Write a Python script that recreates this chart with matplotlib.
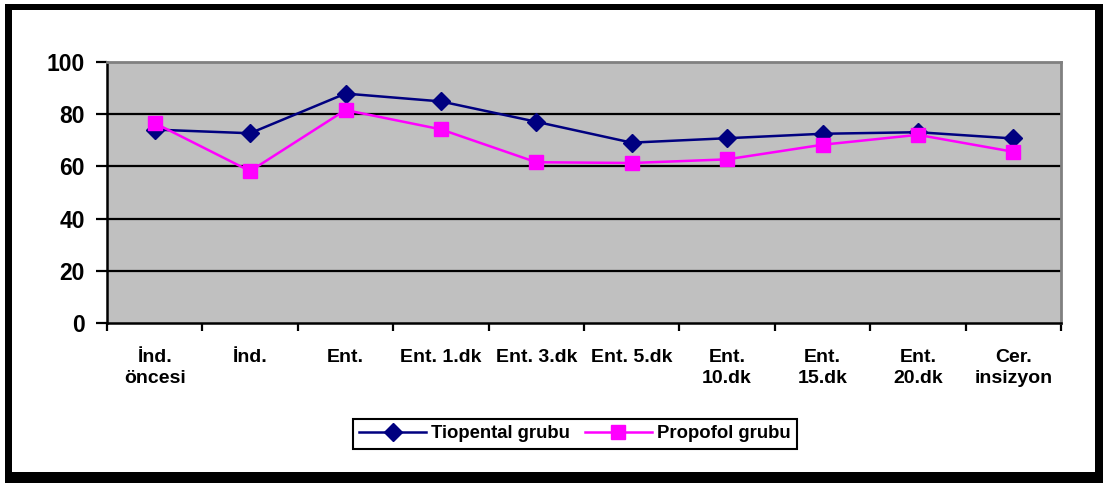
import matplotlib
matplotlib.use("Agg")
import matplotlib.pyplot as plt
from matplotlib.patches import Rectangle

plt.rcParams["font.family"] = ["Liberation Sans", "DejaVu Sans"]
plt.rcParams["font.weight"] = "bold"

categories = ["İnd.\nöncesi", "İnd.", "Ent.", "Ent. 1.dk", "Ent. 3.dk",
              "Ent. 5.dk", "Ent.\n10.dk", "Ent.\n15.dk", "Ent.\n20.dk", "Cer.\ninsizyon"]
tiopental = [74.1, 72.7, 87.9, 84.9, 77.1, 69.1, 70.8, 72.5, 73.1, 70.7]
propofol = [76.6, 58.2, 81.6, 74.2, 61.6, 61.3, 62.7, 68.3, 72.1, 65.6]
y_ticks = [0, 20, 40, 60, 80, 100]

W, H = 1103, 483
fig = plt.figure(figsize=(W / 100, H / 100), dpi=100)

# outer frame with shadow on right/bottom, kept behind the axes
fig.patches.append(Rectangle((5 / W, 0), 1 - 5 / W, 1 - 4 / H, transform=fig.transFigure,
                             facecolor="black", edgecolor="none", zorder=-2))
fig.patches.append(Rectangle((12 / W, 11 / H), (1095 - 12) / W, (472 - 10) / H,
                             transform=fig.transFigure, facecolor="white",
                             edgecolor="none", zorder=-1))

ax = fig.add_axes([107 / W, 1 - 323 / H, (1061 - 107) / W, (323 - 62) / H])
ax.set_facecolor("#C0C0C0")
x = list(range(1, len(categories) + 1))

ax.plot(x, tiopental, color="#000080", lw=1.8, marker="D", ms=9,
        label="Tiopental grubu", zorder=3)
ax.plot(x, propofol, color="#FF00FF", lw=1.8, marker="s", ms=10,
        label="Propofol grubu", zorder=4)

ax.set_xlim(0.5, len(categories) + 0.5)
ax.set_ylim(0, 100)
ax.set_yticks(y_ticks)
for v in y_ticks[1:-1]:
    ax.axhline(v, color="black", lw=1.6, zorder=1)

ax.set_xticks(x)
ax.set_xticklabels(categories, fontsize=14, fontweight="bold", linespacing=1.3)
ax.set_xticks([i + 0.5 for i in range(len(categories) + 1)], minor=True)
ax.tick_params(axis="x", which="major", length=0, pad=19)
ax.tick_params(axis="x", which="minor", length=6, width=1.6, direction="out")
ax.tick_params(axis="y", length=8, width=1.6, pad=8, labelsize=16.5)
for lab in ax.get_yticklabels():
    lab.set_fontweight("bold")

for side in ("left", "bottom"):
    ax.spines[side].set_color("black")
    ax.spines[side].set_linewidth(1.8)
for side in ("top", "right"):
    ax.spines[side].set_color("#808080")
    ax.spines[side].set_linewidth(2)

leg = fig.legend(loc="center", bbox_to_anchor=(575 / W, 1 - 434 / H), ncol=2,
                 prop={"weight": "bold", "size": 13.3}, fancybox=False,
                 edgecolor="black", framealpha=1, handlelength=3.6,
                 columnspacing=0.8, handletextpad=0.3, borderpad=0.35)
leg.get_frame().set_linewidth(1.5)

fig.savefig("out.png", dpi=100)
